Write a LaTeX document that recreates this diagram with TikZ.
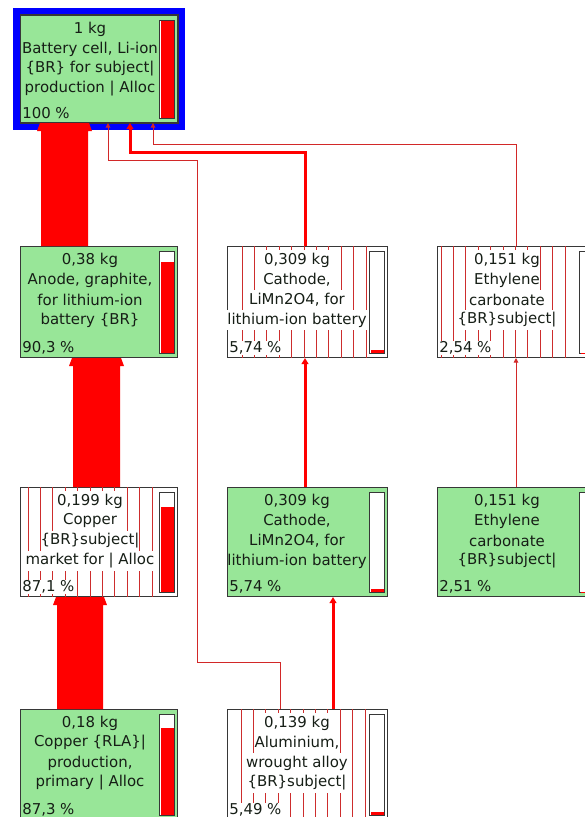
\documentclass[tikz,border=0pt]{standalone}
\usepackage{fontspec}
\setmainfont{DejaVu Sans}
\usetikzlibrary{calc,arrows.meta}
\definecolor{boxgreen}{RGB}{152,230,152}
\definecolor{txtc}{RGB}{22,30,22}
\definecolor{edgec}{RGB}{55,55,55}
\definecolor{thinred}{RGB}{210,40,40}
\definecolor{hatchred}{RGB}{205,45,45}
\tikzset{
  greenbox/.style={draw=edgec, line width=0.75pt, fill=boxgreen, anchor=north west, inner sep=0pt},
  hatchbox/.style={draw=edgec, line width=0.75pt, fill=white, anchor=north west, inner sep=0pt},
  barbox/.style={draw=edgec, line width=0.75pt, fill=white, anchor=north east, inner sep=0pt, minimum width=11.25pt},
  txtline/.style={inner sep=0pt, text=txtc, minimum height=15pt, font=\fontsize{11.2}{13}\selectfont},
  pctline/.style={txtline, anchor=west, minimum height=10.5pt},
  hatchline/.style={hatchred, line width=0.75pt},
  thinconn/.style={thinred, line width=0.75pt, -{Triangle[length=3.5pt,width=3.5pt]}},
  thickconn/.style={red, line width=2.25pt, -{Triangle[length=4.5pt,width=5pt]}},
  bandfill/.style={fill=red},
}
\newcommand\procbox[6]{%
  \node[#6, minimum width={#4*0.75pt}, minimum height={#5*0.75pt}] (#1) at (#2,#3) {};}
\newcommand\hatch[2]{%
  \foreach \i in {0,...,10}{\draw[hatchline] ($(#1.north west)+(#2+12.4*\i,0)$) -- ($(#1.south west)+(#2+12.4*\i,0)$);}}
\newcommand\procbar[3]{%
  \node[barbox, minimum height={(#2-9)*0.75pt}] (#1-bar) at ($(#1.north east)+(-3,5)$) {};
  \fill[red] ($(#1-bar.south west)+(1.5,-1.5)$) rectangle ($(#1-bar.north east)!#3!(#1-bar.south east)+(-1.5,1.5)$);}
\newcommand\proclines[7]{%
  \node[txtline, fill=#2] (#1-l1) at ($(#1.north west)+(70,14)$) {#3};
  \node[txtline, fill=#2] (#1-l2) at ($(#1.north west)+(70,34)$) {#4};
  \node[txtline, fill=#2] (#1-l3) at ($(#1.north west)+(70,54)$) {#5};
  \node[txtline, fill=#2] (#1-l4) at ($(#1.north west)+(70,74)$) {#6};
  \node[pctline, fill=#2] (#1-pct) at ($(#1.south west)+(2,-10)$) {#7};}
\newcommand\band[4]{%
  \coordinate (#1-#2-a) at ($(#1.north west)+(#3,0)$);
  \coordinate (#1-#2-b) at ($(#1.north west)+(#4,0)$);
  \fill[bandfill] (#1-#2-a) -- ($(#1-#2-a |- #2.south)+(0,8)$) -- ++(-4,0)
    -- ($(#1-#2-a |- #2.south)+(-1,0)$) -- ($(#1-#2-b |- #2.south)+(1,0)$)
    -- ($(#1-#2-b |- #2.south)+(4,8)$) -- ++(-4,0) -- (#1-#2-b) -- cycle;}
\begin{document}
\begin{tikzpicture}[x=0.75pt,y=-0.75pt]
\useasboundingbox (0,0) rectangle (585,817);
\clip (0,0) rectangle (585,817);
\fill[white] (0,0) rectangle (585,817);
% boxes
\procbox{top}{20}{15}{157}{107}{greenbox}
\draw[blue, line width=5.25pt] ($(top.north west)+(-3.5,-3.5)$) rectangle ($(top.south east)+(3.5,3.5)$);
\draw[edgec, line width=0.75pt] (top.north west) rectangle (top.south east);
\procbox{anode}{20}{246}{157}{111}{greenbox}
\procbox{cath1}{227}{246}{160}{111}{hatchbox}
\procbox{eth1}{437}{246}{160}{111}{hatchbox}
\procbox{copm}{20}{487}{157}{109}{hatchbox}
\procbox{cath2}{227}{487}{160}{109}{greenbox}
\procbox{eth2}{437}{487}{160}{109}{greenbox}
\procbox{curla}{20}{709}{157}{110}{greenbox}
\procbox{alu}{227}{709}{160}{110}{hatchbox}
% hatching
\hatch{cath1}{15}
\hatch{eth1}{4}
\hatch{copm}{8}
\hatch{alu}{14}
% bars
\procbar{top}{107}{0}
\procbar{anode}{111}{0.097}
\procbar{cath1}{111}{0.9426}
\procbar{eth1}{111}{0.9746}
\procbar{copm}{109}{0.129}
\procbar{cath2}{109}{0.9426}
\procbar{eth2}{109}{0.9749}
\procbar{curla}{110}{0.127}
\procbar{alu}{110}{0.9451}
% texts
\proclines{top}{none}{1 kg}{Battery cell, Li-ion}{\{BR\} for subject|}{production | Alloc}{100 \%}
\proclines{anode}{none}{0,38 kg}{Anode, graphite,}{for lithium-ion}{battery \{BR\}}{90,3 \%}
\proclines{cath1}{white}{0,309 kg}{Cathode,}{LiMn2O4, for}{lithium-ion battery}{5,74 \%}
\proclines{eth1}{white}{0,151 kg}{Ethylene}{carbonate}{\{BR\}subject|}{2,54 \%}
\proclines{copm}{white}{0,199 kg}{Copper}{\{BR\}subject|}{market for | Alloc}{87,1 \%}
\proclines{cath2}{none}{0,309 kg}{Cathode,}{LiMn2O4, for}{lithium-ion battery}{5,74 \%}
\proclines{eth2}{none}{0,151 kg}{Ethylene}{carbonate}{\{BR\}subject|}{2,51 \%}
\proclines{curla}{none}{0,18 kg}{Copper \{RLA\}|}{production,}{primary | Alloc}{87,3 \%}
\proclines{alu}{white}{0,139 kg}{Aluminium,}{wrought alloy}{\{BR\}subject|}{5,49 \%}
% wide flows
\band{anode}{top}{21}{68}
\band{copm}{anode}{53}{100}
\band{curla}{copm}{37}{83}
% connectors
\draw[thickconn] ($(cath1.north west)+(78,0)$) |- ($(top.south west)+(110,29)$) -- ($(top.south west)+(110,0)$);
\draw[thinconn] ($(alu.north west)+(53,0)$) -- ($(alu.north west)+(53,-47)$) -- ($(alu.north west)+(-30,-47)$) |- ($(top.south west)+(88,37)$) -- ($(top.south west)+(88,0)$);
\draw[thinconn] ($(eth1.north west)+(79,0)$) |- ($(top.south west)+(133,21)$) -- ($(top.south west)+(133,0)$);
\draw[thickconn] ($(cath2.north west)+(78,0)$) -- ($(cath1.south west)+(78,0)$);
\draw[thickconn] ($(alu.north west)+(106,0)$) -- ($(cath2.south west)+(106,0)$);
\draw[thinconn] ($(eth2.north west)+(79,0)$) -- ($(eth1.south west)+(79,0)$);
\end{tikzpicture}
\end{document}
